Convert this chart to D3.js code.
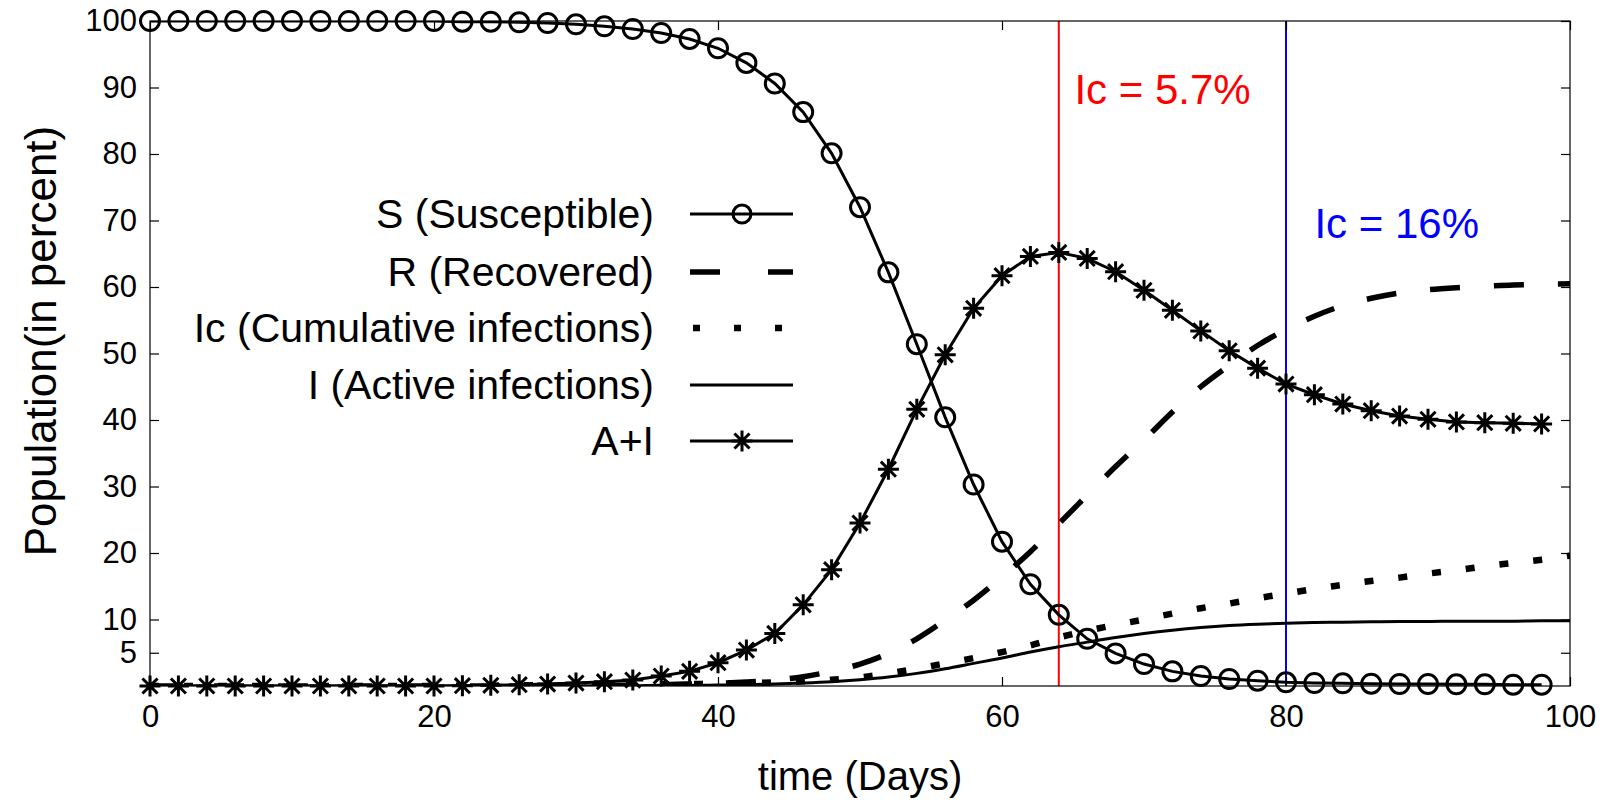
<!DOCTYPE html>
<html>
<head>
<meta charset="utf-8">
<script src="https://cdn.jsdelivr.net/npm/d3@7"></script>
<style>
html,body{margin:0;padding:0;background:#fff;}
svg{display:block;font-family:"Liberation Sans",Arial,Helvetica,sans-serif;}
</style>
</head>
<body>
<svg id="chart" width="1600" height="800"></svg>
<script>
// ---------- data ----------
const markerDays = [0,2,4,6,8,10,12,14,16,18,20,22,24,26,28,30,32,34,36,38,40,42,44,46,48,50,52,54,56,58,60,62,64,66,68,70,72,74,76,78,80,82,84,86,88,90,92,94,96,98];
const sValues = [100,100,100,100,100,100,100,100,100,100,100,99.9,99.9,99.8,99.7,99.5,99.2,98.8,98.2,97.3,95.9,93.7,90.6,86.3,80.1,72.0,62.2,51.4,40.4,30.3,21.7,15.3,10.7,7.1,4.9,3.3,2.2,1.5,1.05,0.8,0.55,0.45,0.4,0.35,0.3,0.3,0.25,0.25,0.2,0.2];
const aiValues = [0,0,0,0,0,0,0,0,0,0,0,0.05,0.1,0.2,0.3,0.45,0.65,0.9,1.5,2.2,3.5,5.4,7.9,12.2,17.5,24.5,32.6,41.6,49.8,56.8,61.7,64.6,65.2,64.3,62.3,59.5,56.5,53.4,50.4,47.8,45.4,43.8,42.4,41.4,40.6,40.1,39.7,39.6,39.5,39.4];

const lineDays = [0,2,4,6,8,10,12,14,16,18,20,22,24,26,28,30,32,34,36,38,40,42,44,46,48,50,52,54,56,58,60,62,64,66,68,70,72,74,76,78,80,82,84,86,88,90,92,94,96,98,100];
const rValues = [0,0,0,0,0,0,0,0,0,0,0,0,0,0.05,0.05,0.1,0.1,0.15,0.2,0.3,0.4,0.6,0.9,1.4,2.2,3.3,4.9,7.1,9.9,12.9,16.4,20.2,24.4,28.7,33.0,37.0,41.2,45.0,48.2,51.2,53.6,55.6,57.2,58.3,59.1,59.6,59.9,60.1,60.3,60.4,60.5];
const icValues = [0,0,0,0,0,0,0,0,0,0,0,0.05,0.05,0.1,0.1,0.15,0.2,0.2,0.25,0.3,0.35,0.45,0.55,0.7,0.95,1.3,1.9,2.6,3.4,4.2,5.1,6.1,7.3,8.3,9.2,10.0,10.9,11.7,12.4,13.2,13.9,14.6,15.2,15.8,16.3,16.9,17.4,18.0,18.5,19.0,19.6];
const iValues = [0,0,0,0,0,0,0,0,0,0,0,0,0,0,0,0,0.05,0.05,0.1,0.1,0.15,0.2,0.3,0.45,0.65,0.95,1.35,1.9,2.6,3.4,4.2,5.1,5.9,6.6,7.3,7.9,8.4,8.8,9.1,9.3,9.45,9.55,9.6,9.65,9.7,9.7,9.75,9.75,9.75,9.8,9.8];

const xTicks = [0,20,40,60,80,100];
const yTicks = [5,10,20,30,40,50,60,70,80,90,100];
const markerLinesDays = [64,80];
const markerLineColors = ["#ff0000","#0000ff"];
const annotations = [
  {text:"Ic = 5.7%", day:65.1, value:87.5, color:"#ff0000"},
  {text:"Ic = 16%", day:82.0, value:67.3, color:"#0000ff"}
];
const legendLabels = ["S (Susceptible)","R (Recovered)","Ic (Cumulative infections)","I (Active infections)","A+I"];

// ---------- layout ----------
const svg = d3.select("#chart");
const L = 150, R = 1570, T = 21, B = 686;
const x = d3.scaleLinear().domain([0,100]).range([L,R]);
const y = d3.scaleLinear().domain([0,100]).range([B,T]);
const font = '"Liberation Sans",Arial,Helvetica,sans-serif';

svg.append("defs").append("clipPath").attr("id","clip")
  .append("rect").attr("x",L).attr("y",T).attr("width",R-L).attr("height",B-T);

// vertical reference lines
const plot = svg.append("g").attr("clip-path","url(#clip)");
markerLinesDays.forEach((d,i)=>{
  plot.append("line").attr("x1",x(d)).attr("x2",x(d)).attr("y1",T).attr("y2",B)
    .attr("stroke",markerLineColors[i]).attr("stroke-width",2);
});

// lines
const lineGen = (xs, ys, curve) => d3.line().x((d,i)=>x(xs[i])).y((d)=>y(d)).curve(curve)(ys);

plot.append("path").attr("d",lineGen(lineDays,rValues,d3.curveMonotoneX))
  .attr("fill","none").attr("stroke","#000").attr("stroke-width",5.5).attr("stroke-dasharray","30,34");
plot.append("path").attr("d",lineGen(lineDays,icValues,d3.curveMonotoneX))
  .attr("fill","none").attr("stroke","#000").attr("stroke-width",6.5).attr("stroke-dasharray","9,25");
plot.append("path").attr("d",lineGen(lineDays,iValues,d3.curveMonotoneX))
  .attr("fill","none").attr("stroke","#000").attr("stroke-width",3);
plot.append("path").attr("d",lineGen(markerDays,sValues,d3.curveLinear))
  .attr("fill","none").attr("stroke","#000").attr("stroke-width",3);
plot.append("path").attr("d",lineGen(markerDays,aiValues,d3.curveLinear))
  .attr("fill","none").attr("stroke","#000").attr("stroke-width",3);

// markers
const starPath = (s)=>{const d=s*0.72;return `M0,${-s}L0,${s}M${-s},0L${s},0M${-d},${-d}L${d},${d}M${-d},${d}L${d},${-d}`;};
svg.append("g").selectAll("circle").data(sValues).join("circle")
  .attr("cx",(d,i)=>x(markerDays[i])).attr("cy",d=>y(d)).attr("r",9.5)
  .attr("fill","none").attr("stroke","#000").attr("stroke-width",3);
svg.append("g").selectAll("path").data(aiValues).join("path")
  .attr("transform",(d,i)=>`translate(${x(markerDays[i])},${y(d)})`)
  .attr("d",starPath(10.5)).attr("fill","none").attr("stroke","#000").attr("stroke-width",3);

// frame
svg.append("rect").attr("x",L).attr("y",T).attr("width",R-L).attr("height",B-T)
  .attr("fill","none").attr("stroke","#000").attr("stroke-width",1.2);

// axes
const tl = 9;
const xAxis = d3.axisBottom(x).tickValues(xTicks).tickSize(-tl).tickPadding(19).tickFormat(d3.format("d"));
const gx = svg.append("g").attr("transform",`translate(0,${B})`).call(xAxis);
const xTop = d3.axisTop(x).tickValues(xTicks).tickSize(-tl).tickFormat("");
svg.append("g").attr("transform",`translate(0,${T})`).call(xTop);
const yAxis = d3.axisLeft(y).tickValues(yTicks).tickSize(-tl).tickPadding(13).tickFormat(d3.format("d"));
const gy = svg.append("g").attr("transform",`translate(${L},0)`).call(yAxis);
const yRight = d3.axisRight(y).tickValues(yTicks).tickSize(-tl).tickFormat("");
svg.append("g").attr("transform",`translate(${R},0)`).call(yRight);
svg.selectAll(".domain").remove();
svg.selectAll(".tick line").attr("stroke","#000").attr("stroke-width",1.2);
svg.selectAll(".tick text").attr("font-family",font).attr("font-size",31).attr("fill","#000");

// axis titles
svg.append("text").attr("x",x(50)).attr("y",790).attr("text-anchor","middle")
  .attr("font-family",font).attr("font-size",40).text("time (Days)");
svg.append("text").attr("transform",`translate(56,341) rotate(-90)`).attr("text-anchor","middle")
  .attr("font-family",font).attr("font-size",44).text("Population(in percent)");

// annotations
annotations.forEach(a=>{
  svg.append("text").attr("x",x(a.day)).attr("y",y(a.value)).attr("fill",a.color)
    .attr("font-family",font).attr("font-size",42).text(a.text);
});

// legend
const lg = svg.append("g");
const rowY = [214,272,328,385,441];
const lx1 = 690, lx2 = 793, lmid = 742;
legendLabels.forEach((lab,i)=>{
  lg.append("text").attr("x",654).attr("y",rowY[i]).attr("dy","0.35em").attr("text-anchor","end")
    .attr("font-family",font).attr("font-size",41).text(lab);
});
lg.append("line").attr("x1",lx1).attr("x2",lx2).attr("y1",rowY[0]).attr("y2",rowY[0]).attr("stroke","#000").attr("stroke-width",3);
lg.append("circle").attr("cx",lmid).attr("cy",rowY[0]).attr("r",9).attr("fill","none").attr("stroke","#000").attr("stroke-width",3);
lg.append("line").attr("x1",lx1).attr("x2",lx2).attr("y1",rowY[1]).attr("y2",rowY[1]).attr("stroke","#000").attr("stroke-width",5.5).attr("stroke-dasharray","30,48,25");
lg.append("line").attr("x1",lx1+3).attr("x2",lx2).attr("y1",rowY[2]).attr("y2",rowY[2]).attr("stroke","#000").attr("stroke-width",6.5).attr("stroke-dasharray","7,34");
lg.append("line").attr("x1",lx1).attr("x2",lx2).attr("y1",rowY[3]).attr("y2",rowY[3]).attr("stroke","#000").attr("stroke-width",3);
lg.append("line").attr("x1",lx1).attr("x2",lx2).attr("y1",rowY[4]).attr("y2",rowY[4]).attr("stroke","#000").attr("stroke-width",3);
lg.append("path").attr("transform",`translate(${lmid},${rowY[4]})`).attr("d",starPath(10.5)).attr("fill","none").attr("stroke","#000").attr("stroke-width",3);
</script>
</body>
</html>
